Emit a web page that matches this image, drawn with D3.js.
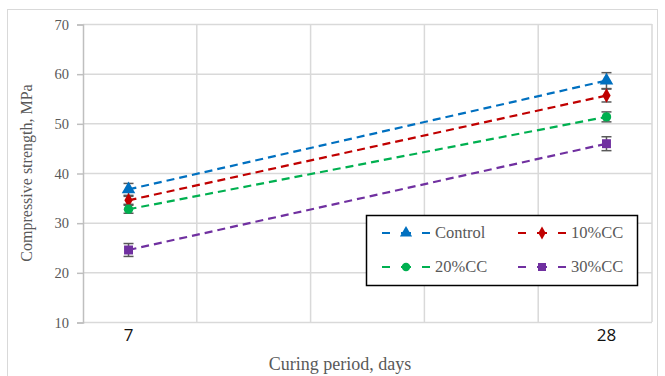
<!DOCTYPE html>
<html>
<head>
<meta charset="utf-8">
<script src="https://cdn.jsdelivr.net/npm/d3@7"></script>
<style>
  body { margin: 0; background: #fff; }
  svg { display: block; }
  .serif { font-family: 'Liberation Serif', 'Times New Roman', serif; }
</style>
</head>
<body>
<svg id="drawing_region"></svg>
<script>
// data
const days = [7, 28];
const seriesNames = ["Control", "10%CC", "20%CC", "30%CC"];
const seriesColors = ["#0070C0", "#C00000", "#00B050", "#7030A0"];
const seriesSymbols = [d3.symbolTriangle, d3.symbolDiamond, d3.symbolCircle, d3.symbolSquare];
const control = [36.7, 58.6];
const cc10 = [34.5, 55.6];
const cc20 = [32.7, 51.3];
const cc30 = [24.5, 45.9];
const controlErr = [1.2, 1.6];
const cc10Err = [0.8, 1.3];
const cc20Err = [0.8, 1.0];
const cc30Err = [1.3, 1.4];
const yTicks = [10, 20, 30, 40, 50, 60, 70];
const xGrid = [5, 10, 15, 20, 25, 30];

const values = [control, cc10, cc20, cc30];
const errors = [controlErr, cc10Err, cc20Err, cc30Err];

const W = 665, H = 376;
const svg = d3.select('#drawing_region')
    .attr('width', W)
    .attr('height', H);

// outer chart frame
svg.append('rect')
    .attr('x', 7.5).attr('y', 9.5)
    .attr('width', 650).attr('height', 380)
    .attr('fill', 'none')
    .attr('stroke', '#d9d9d9');

const x = d3.scaleLinear().domain([5, 30]).range([83, 652]);
const y = d3.scaleLinear().domain([10, 70]).range([322, 24]);

// gridlines
svg.append('g').selectAll('line.h')
    .data(yTicks)
    .join('line')
    .attr('x1', x(5)).attr('x2', x(30))
    .attr('y1', d => y(d) + 0.5).attr('y2', d => y(d) + 0.5)
    .attr('stroke', '#d9d9d9').attr('stroke-width', 1.5);

svg.append('g').selectAll('line.v')
    .data(xGrid.slice(1))
    .join('line')
    .attr('x1', d => x(d)).attr('x2', d => x(d))
    .attr('y1', y(70)).attr('y2', y(10))
    .attr('stroke', '#d9d9d9').attr('stroke-width', 1.5);

// y axis
const yAxis = d3.axisLeft(y)
    .tickValues(yTicks)
    .tickSize(6)
    .tickPadding(8);
const yg = svg.append('g')
    .attr('transform', `translate(${x(5)},0.5)`)
    .call(yAxis)
    .attr('font-family', null)
    .attr('font-size', null);
yg.select('.domain').attr('stroke', '#bfbfbf').attr('stroke-width', 1.5);
yg.selectAll('.tick line').attr('stroke', '#bfbfbf').attr('stroke-width', 1.5);
yg.selectAll('.tick text')
    .attr('class', 'serif')
    .attr('fill', '#595959')
    .attr('font-size', 14.5);

// x tick labels (only curing ages)
svg.append('g').selectAll('text')
    .data(days)
    .join('text')
    .attr('x', d => x(d))
    .attr('y', 341)
    .attr('text-anchor', 'middle')
    .attr('fill', '#111')
    .attr('font-family', 'Open Sans, Liberation Sans, sans-serif')
    .attr('font-size', 17)
    .text(d => d);

// axis titles
svg.append('text')
    .attr('class', 'serif')
    .attr('transform', `translate(32,${(y(10) + y(70)) / 2}) rotate(-90)`)
    .attr('text-anchor', 'middle')
    .attr('fill', '#595959')
    .attr('font-size', 16)
    .text('Compressive strength, MPa');

svg.append('text')
    .attr('class', 'serif')
    .attr('x', 340).attr('y', 370)
    .attr('text-anchor', 'middle')
    .attr('fill', '#595959')
    .attr('font-size', 18)
    .text('Curing period, days');

// series
const line = d3.line()
    .x((d, i) => x(days[i]))
    .y(d => y(d));

const symSize = [80, 60, 70, 80];

values.forEach((vals, s) => {
    const g = svg.append('g');
    g.append('path')
        .datum(vals)
        .attr('d', line)
        .attr('fill', 'none')
        .attr('stroke', seriesColors[s])
        .attr('stroke-width', 2.2)
        .attr('stroke-dasharray', '8,5');

    const eb = g.selectAll('g.err')
        .data(vals)
        .join('g')
        .attr('stroke', '#595959')
        .attr('stroke-width', 1.5);
    eb.append('line')
        .attr('x1', (d, i) => x(days[i])).attr('x2', (d, i) => x(days[i]))
        .attr('y1', (d, i) => y(d + errors[s][i])).attr('y2', (d, i) => y(d - errors[s][i]));
    eb.append('line')
        .attr('x1', (d, i) => x(days[i]) - 5).attr('x2', (d, i) => x(days[i]) + 5)
        .attr('y1', (d, i) => y(d + errors[s][i])).attr('y2', (d, i) => y(d + errors[s][i]));
    eb.append('line')
        .attr('x1', (d, i) => x(days[i]) - 5).attr('x2', (d, i) => x(days[i]) + 5)
        .attr('y1', (d, i) => y(d - errors[s][i])).attr('y2', (d, i) => y(d - errors[s][i]));

    g.selectAll('path.mark')
        .data(vals)
        .join('path')
        .attr('class', 'mark')
        .attr('transform', (d, i) => `translate(${x(days[i])},${y(d)})`)
        .attr('d', d3.symbol().type(seriesSymbols[s]).size(symSize[s]))
        .attr('fill', seriesColors[s]);
});

// legend
const legend = svg.append('g').attr('transform', 'translate(366,215)');
legend.append('rect')
    .attr('x', 0.5).attr('y', 0.5)
    .attr('width', 271).attr('height', 70)
    .attr('fill', '#fff')
    .attr('stroke', '#000')
    .attr('stroke-width', 1.5);

const items = legend.selectAll('g.item')
    .data(seriesNames)
    .join('g')
    .attr('transform', (d, i) => `translate(${(i % 2) * 136},${i < 2 ? 18 : 52})`);
items.append('line')
    .attr('x1', 16).attr('x2', 64)
    .attr('y1', 0).attr('y2', 0)
    .attr('stroke', (d, i) => seriesColors[i])
    .attr('stroke-width', 2.2)
    .attr('stroke-dasharray', '8,11,10,11,8');
items.append('path')
    .attr('transform', 'translate(40,0)')
    .attr('d', (d, i) => d3.symbol().type(seriesSymbols[i]).size(symSize[i] * 0.8)())
    .attr('fill', (d, i) => seriesColors[i]);
items.append('text')
    .attr('class', 'serif')
    .attr('x', 69).attr('y', 5)
    .attr('fill', '#595959')
    .attr('font-size', 16.5)
    .text(d => d);
</script>
</body>
</html>
